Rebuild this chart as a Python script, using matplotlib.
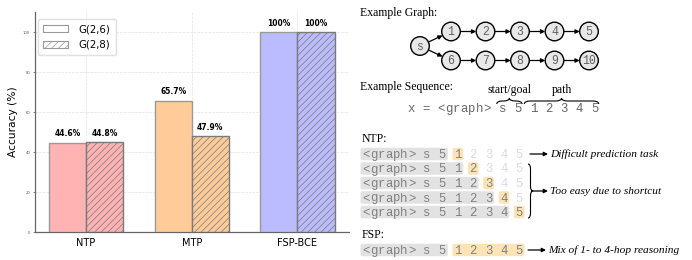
import matplotlib
matplotlib.use("Agg")
import matplotlib.pyplot as plt
from matplotlib.patches import Patch, Circle, FancyArrowPatch, FancyBboxPatch, PathPatch
from matplotlib.path import Path
import numpy as np

plt.rcParams["hatch.linewidth"] = 0.5

# ---------------- data ----------------
categories = ["NTP", "MTP", "FSP-BCE"]
acc_g26 = [44.6, 65.7, 100.0]
acc_g28 = [44.8, 47.9, 100.0]
bar_colors = ["#FFB3B3", "#FFCC99", "#BBBBFF"]
series_labels = ["G(2,6)", "G(2,8)"]
yticks = [0, 20, 40, 60, 80, 100]

graph_top = ["1", "2", "3", "4", "5"]
graph_bottom = ["6", "7", "8", "9", "10"]
seq_prefix = ["<graph>", "s", "5"]
seq_path = ["1", "2", "3", "4", "5"]
ntp_notes = ["Difficult prediction task", "Too easy due to shortcut"]
fsp_note = "Mix of 1- to 4-hop reasoning"

# ---------------- figure ----------------
W, H = 692, 260
fig = plt.figure(figsize=(W / 100, H / 100), dpi=100)

ax = fig.add_axes([35 / W, 1 - 232 / H, (349 - 35) / W, 220 / H])
x = np.arange(len(categories))
bw = 0.35
ax.bar(x - bw / 2, acc_g26, bw, color=bar_colors, edgecolor="#999999", linewidth=1, zorder=3)
ax.bar(x + bw / 2, acc_g28, bw, color=bar_colors, edgecolor="#7a7a7a", linewidth=1,
       hatch="/////", zorder=3)
for xi, v in zip(x - bw / 2, acc_g26):
    ax.text(xi, v + 2.2, f"{v:g}%", ha="center", va="bottom", fontsize=5.5, fontweight="bold")
for xi, v in zip(x + bw / 2, acc_g28):
    ax.text(xi, v + 2.2, f"{v:g}%", ha="center", va="bottom", fontsize=5.5, fontweight="bold")

ax.set_xlim(-0.482, 2.487)
ax.set_ylim(0, 110)
ax.set_xticks(x)
ax.set_xticklabels(categories, fontsize=7)
ax.set_yticks(yticks)
ax.tick_params(axis="y", labelsize=2.7, length=1.5, width=0.5, pad=2, colors="#555555")
ax.tick_params(axis="x", length=0, pad=4)
for s in ["top", "right"]:
    ax.spines[s].set_visible(False)
for s in ["left", "bottom"]:
    ax.spines[s].set_color("#666666")
    ax.spines[s].set_linewidth(0.9)
ax.grid(True, linestyle="--", color="#e2e2e2", linewidth=0.5)
ax.set_axisbelow(True)
ax.set_ylabel("Accuracy (%)", fontsize=7.7)
ax.yaxis.set_label_coords(-0.054, 0.5)

handles = [Patch(facecolor="white", edgecolor="#999999", linewidth=0.8),
           Patch(facecolor="white", edgecolor="#999999", linewidth=0.8, hatch="/////")]
ax.legend(handles, series_labels, loc="upper left", bbox_to_anchor=(-0.006, 0.99),
          fontsize=7.3, handlelength=2.4, handletextpad=1.1, labelspacing=0.55,
          frameon=True, edgecolor="#e0e0e0", framealpha=1, borderpad=0.5)

# ---------------- diagram overlay (pixel coordinates) ----------------
ov = fig.add_axes([0, 0, 1, 1])
ov.set_xlim(0, W)
ov.set_ylim(H, 0)
ov.axis("off")

SERIF = "Liberation Serif"
MONO = "Liberation Mono"
MONO_FS = 8.8
CW = 7.67  # monospace cell in px

ov.text(360, 13, "Example Graph:", fontfamily=SERIF, fontsize=8.5, ha="left", va="center")

# graph nodes
R = 9.3
node_x = [451, 485.5, 520, 554.5, 589]
y_top, y_bot = 31.5, 60.5
s_pos = (420, 46)


def node(cx, cy, label):
    ov.add_patch(Circle((cx, cy), R, facecolor="#e8e8e8", edgecolor="black", linewidth=1, zorder=3))
    ov.text(cx, cy + 0.5, label, fontfamily=MONO, fontsize=8.3, color="#606060",
            ha="center", va="center", zorder=4)


def arrow(p, q):
    p = np.array(p, float); q = np.array(q, float)
    u = (q - p) / np.linalg.norm(q - p)
    a = p + u * R
    b = q - u * R
    ov.add_patch(FancyArrowPatch(tuple(a), tuple(b), arrowstyle="-|>", mutation_scale=6,
                                 linewidth=0.9, color="black", shrinkA=0, shrinkB=0, zorder=2))


node(*s_pos, "s")
for lbl, cx in zip(graph_top, node_x):
    node(cx, y_top, lbl)
for lbl, cx in zip(graph_bottom, node_x):
    node(cx, y_bot, lbl)
arrow(s_pos, (node_x[0], y_top))
arrow(s_pos, (node_x[0], y_bot))
for i in range(len(node_x) - 1):
    arrow((node_x[i], y_top), (node_x[i + 1], y_top))
    arrow((node_x[i], y_bot), (node_x[i + 1], y_bot))


def hbrace(x0, x1, y, h):
    xm = (x0 + x1) / 2
    q = min(h, (x1 - x0) / 4)
    v = [(x0, y + h / 2), (x0, y), (x0 + q, y), (xm - q, y), (xm, y), (xm, y - h / 2),
         (xm, y), (xm + q, y), (x1 - q, y), (x1, y), (x1, y + h / 2)]
    c = [Path.MOVETO, Path.CURVE3, Path.CURVE3, Path.LINETO, Path.CURVE3, Path.CURVE3,
         Path.CURVE3, Path.CURVE3, Path.LINETO, Path.CURVE3, Path.CURVE3]
    ov.add_patch(PathPatch(Path(v, c), facecolor="none", edgecolor="black", linewidth=0.8))


def vbrace(x, y0, y1, w):
    ym = (y0 + y1) / 2
    q = min(w, (y1 - y0) / 4)
    v = [(x - w / 2, y0), (x, y0), (x, y0 + q), (x, ym - q), (x, ym), (x + w / 2, ym),
         (x, ym), (x, ym + q), (x, y1 - q), (x, y1), (x - w / 2, y1)]
    c = [Path.MOVETO, Path.CURVE3, Path.CURVE3, Path.LINETO, Path.CURVE3, Path.CURVE3,
         Path.CURVE3, Path.CURVE3, Path.LINETO, Path.CURVE3, Path.CURVE3]
    ov.add_patch(PathPatch(Path(v, c), facecolor="none", edgecolor="black", linewidth=0.8))


def mono_str(x0, y_base, s, color, z=2):
    for i, ch in enumerate(s):
        if ch != " ":
            ov.text(x0 + i * CW, y_base, ch, fontfamily=MONO, fontsize=MONO_FS, color=color,
                    ha="left", va="baseline", zorder=z)


# example sequence
ov.text(360, 87, "Example Sequence:", fontfamily=SERIF, fontsize=8.5, ha="left", va="center")
seq_line = "x = " + " ".join(seq_prefix + seq_path)
sx0 = 407
mono_str(sx0, 112, seq_line, "#666666")
b1a, b1b = sx0 + 11.7 * CW, sx0 + 15.0 * CW
b2a, b2b = sx0 + 15.3 * CW, sx0 + 25.0 * CW
hbrace(b1a, b1b, 101, 6)
hbrace(b2a, b2b, 101, 6)
ov.text((b1a + b1b) / 2, 90, "start/goal", fontfamily=SERIF, fontsize=8.5, ha="center", va="center")
ov.text((b2a + b2b) / 2, 90, "path", fontfamily=SERIF, fontsize=8.5, ha="center", va="center")

GRAY_BOX = "#e2e2e2"
HI_BOX = "#fde4b6"
TXT = "#808080"
LIGHT = "#dcdcdc"
RX0 = 362
BOX_H = 12.5


def box(i0, i1, yc, color):
    x0 = RX0 + i0 * CW - 1.5
    x1 = RX0 + i1 * CW + 1.5
    ov.add_patch(FancyBboxPatch((x0, yc - BOX_H / 2), x1 - x0, BOX_H,
                                boxstyle="round,pad=0,rounding_size=2",
                                facecolor=color, edgecolor="none", zorder=1))


def tok(i, s, yc, color):
    mono_str(RX0 + i * CW, yc + 4.0, s, color)


def seq_row(yc, n_given, n_target, show_rest):
    idx = 0
    prefix_tokens = seq_prefix + seq_path[:n_given]
    positions = []
    for t in prefix_tokens:
        positions.append(idx)
        idx += len(t) + 1
    box(0, idx - 1, yc, GRAY_BOX)
    for p, t in zip(positions, prefix_tokens):
        tok(p, t, yc, TXT)
    tgt = seq_path[n_given:n_given + n_target]
    start = idx
    for t in tgt:
        tok(idx, t, yc, TXT)
        idx += len(t) + 1
    box(start, idx - 1, yc, HI_BOX)
    if show_rest:
        for t in seq_path[n_given + n_target:]:
            tok(idx, t, yc, LIGHT)
            idx += len(t) + 1


def note_arrow(xa, xb, y):
    ov.add_patch(FancyArrowPatch((xa, y), (xb, y), arrowstyle="-|>", mutation_scale=6,
                                 linewidth=0.9, color="black", shrinkA=0, shrinkB=0))


ov.text(362, 138.5, "NTP:", fontfamily=SERIF, fontsize=8.5, ha="left", va="center")
row_y = [154, 168.5, 183, 197.5, 212]
for k, yc in enumerate(row_y):
    seq_row(yc, k, 1, True)
note_arrow(530, 548, row_y[0])
ov.text(550, row_y[0], ntp_notes[0], fontfamily=SERIF, style="italic", fontsize=8.2,
        ha="left", va="center")
vbrace(530.5, 164, 218, 5)
note_arrow(533, 548, 191)
ov.text(550, 191, ntp_notes[1], fontfamily=SERIF, style="italic", fontsize=8.2,
        ha="left", va="center")

ov.text(362, 235, "FSP:", fontfamily=SERIF, fontsize=8.5, ha="left", va="center")
seq_row(250, 0, 5, False)
note_arrow(528, 546, 250)
ov.text(548, 250, fsp_note, fontfamily=SERIF, style="italic", fontsize=8.2,
        ha="left", va="center")

fig.savefig("out.png", dpi=100)
